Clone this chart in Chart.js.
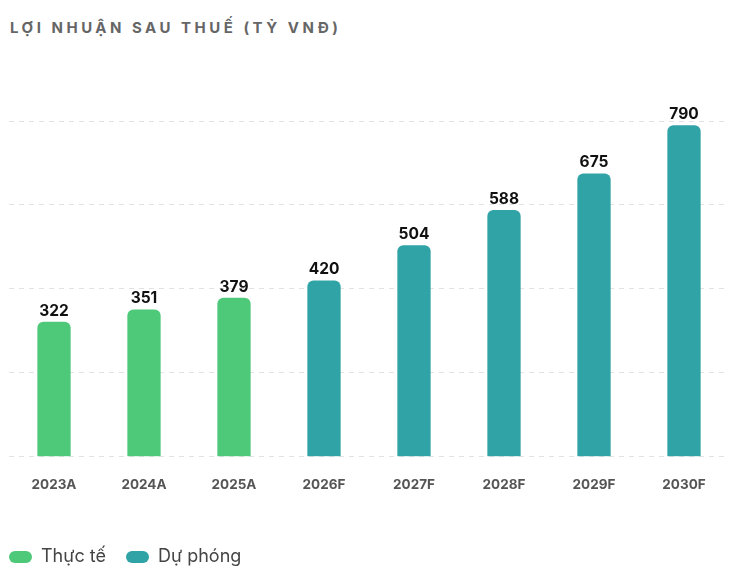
<!DOCTYPE html>
<html>
<head>
<meta charset="utf-8">
<script src="https://cdn.jsdelivr.net/npm/chart.js@4.4.1/dist/chart.umd.min.js"></script>
<style>
  html, body { margin: 0; padding: 0; background: #fff; }
  #wrap { position: relative; width: 731px; height: 578px; }
  #title { position: absolute; left: 10px; top: 18px; font-family: Inter, "Open Sans", sans-serif; font-weight: 700; font-size: 15px; letter-spacing: 3.5px; color: #666; }
  canvas { position: absolute; left: 0; top: 0; }
</style>
</head>
<body>
<div id="wrap">
  <div id="title">LỢI NHUẬN SAU THUẾ (TỶ VNĐ)</div>
  <canvas id="c" width="731" height="578"></canvas>
</div>
<script>
const categories = ["2023A", "2024A", "2025A", "2026F", "2027F", "2028F", "2029F", "2030F"];
const actualValues = [322, 351, 379, null, null, null, null, null];
const forecastValues = [null, null, null, 420, 504, 588, 675, 790];
const seriesNames = ["Thực tế", "Dự phóng"];
const seriesColors = ["#4ec97a", "#30a3a6"];

function pill(color) {
  const cv = document.createElement('canvas');
  cv.width = 23; cv.height = 12;
  const x = cv.getContext('2d');
  x.fillStyle = color;
  x.beginPath();
  x.roundRect(0, 0, 23, 12, 6);
  x.fill();
  return cv;
}

const valueLabels = {
  id: 'valueLabels',
  afterDatasetsDraw(chart) {
    const ctx = chart.ctx;
    ctx.save();
    ctx.font = '700 15.5px Inter, "Open Sans", sans-serif';
    ctx.fillStyle = '#111';
    ctx.textAlign = 'center';
    ctx.textBaseline = 'bottom';
    chart.data.datasets.forEach((ds, i) => {
      const meta = chart.getDatasetMeta(i);
      meta.data.forEach((bar, j) => {
        const v = ds.data[j];
        if (v === null || v === undefined) return;
        ctx.fillText(String(v), bar.x, bar.y - 3);
      });
    });
    ctx.restore();
  }
};

const shiftLegend = {
  id: 'shiftLegend',
  afterLayout(chart) {
    if (chart.legend) { chart.legend.left -= 20; chart.legend.right -= 20; }
  }
};

new Chart(document.getElementById('c'), {
  type: 'bar',
  data: {
    labels: categories,
    datasets: [
      { label: seriesNames[0], data: actualValues, backgroundColor: seriesColors[0], pointStyle: pill(seriesColors[0]) },
      { label: seriesNames[1], data: forecastValues, backgroundColor: seriesColors[1], pointStyle: pill(seriesColors[1]) }
    ]
  },
  options: {
    responsive: false,
    animation: false,
    devicePixelRatio: 1,
    layout: { padding: { top: 121, left: 9, right: 2, bottom: 2 } },
    datasets: {
      bar: { grouped: false, categoryPercentage: 1, barPercentage: 0.37, borderRadius: 6, borderSkipped: 'start' }
    },
    scales: {
      x: {
        grid: { display: false },
        border: { display: false },
        ticks: { padding: 12, color: '#555', font: { family: 'Inter, "Open Sans", sans-serif', weight: '700', size: 13.5 } },
        afterFit(scale) { scale.height += 23; }
      },
      y: {
        min: 0, max: 800,
        ticks: { display: false, stepSize: 200 },
        border: { display: false, dash: [5, 5] },
        grid: { color: '#e2e2e2', lineWidth: 1, tickLength: 0, drawTicks: false }
      }
    },
    plugins: {
      legend: {
        position: 'bottom',
        align: 'start',
        labels: {
          usePointStyle: true,
          pointStyleWidth: 23,
          color: '#444',
          padding: 20,
          font: { family: 'Inter, "Open Sans", sans-serif', size: 18 }
        }
      },
      tooltip: { enabled: false }
    }
  },
  plugins: [valueLabels, shiftLegend]
});
</script>
</body>
</html>
